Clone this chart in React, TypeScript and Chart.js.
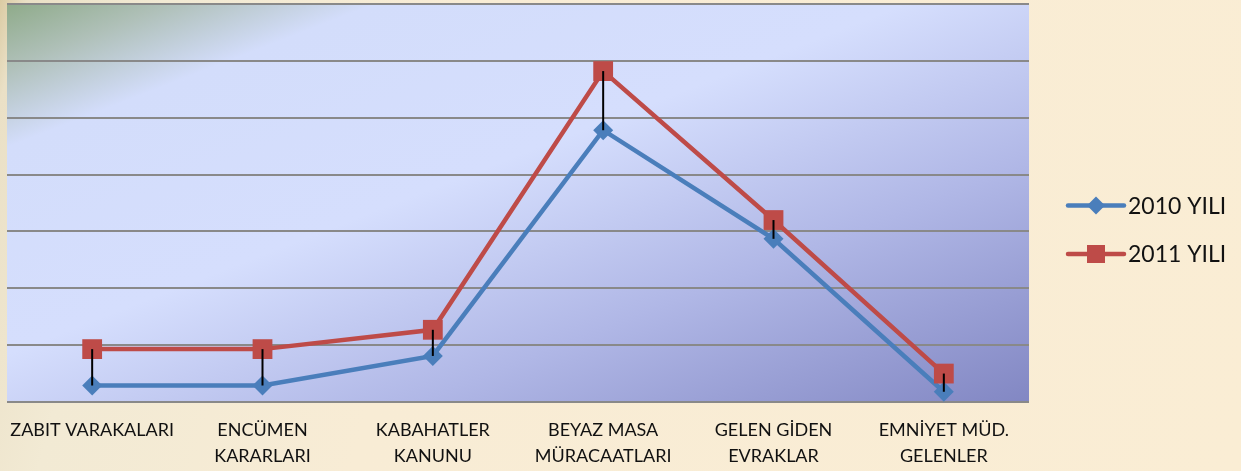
import { useEffect, useRef } from "react";
import { Chart, registerables } from "chart.js";

Chart.register(...registerables);

// Category labels (multi-line where the label wraps)
const categories: string[][] = [
  ["ZABIT VARAKALARI"],
  ["ENCÜMEN", "KARARLARI"],
  ["KABAHATLER", "KANUNU"],
  ["BEYAZ MASA", "MÜRACAATLARI"],
  ["GELEN GİDEN", "EVRAKLAR"],
  ["EMNİYET MÜD.", "GELENLER"],
];

const seriesNames = ["2010 YILI", "2011 YILI"];
const values2010 = [145, 145, 405, 2390, 1435, 90];
const values2011 = [465, 465, 635, 2910, 1600, 250];

const yMax = 3500;
const yStep = 500;

const BLUE = "#4A7EBB";
const RED = "#BE4B48";
const FONT = "Lato, 'Open Sans', sans-serif";

// Gradient fill behind the plot area (diagonal, greenish corner at top-left)
const plotBackground = {
  id: "plotBackground",
  beforeDraw(chart: Chart) {
    const { ctx, chartArea } = chart;
    const { left, top, width, height } = chartArea;
    ctx.save();
    ctx.translate(left, top);
    ctx.scale(width, height);
    const g = ctx.createLinearGradient(0, 0, 1, 1);
    g.addColorStop(0, "#8FAB8A");
    g.addColorStop(0.08, "#AFC0B8");
    g.addColorStop(0.18, "#D3DDFB");
    g.addColorStop(0.44, "#D5DEFD");
    g.addColorStop(0.7, "#B0B7E6");
    g.addColorStop(1, "#8287C3");
    ctx.fillStyle = g;
    ctx.fillRect(0, 0, 1, 1);
    ctx.restore();
  },
};

// Black high-low connectors between the two series at each category
const highLowLines = {
  id: "highLowLines",
  afterDatasetsDraw(chart: Chart) {
    const a = chart.getDatasetMeta(0).data;
    const b = chart.getDatasetMeta(1).data;
    const { ctx } = chart;
    ctx.save();
    ctx.strokeStyle = "#000";
    ctx.lineWidth = 2;
    for (let i = 0; i < a.length; i++) {
      ctx.beginPath();
      ctx.moveTo(b[i].x, b[i].y);
      ctx.lineTo(a[i].x, a[i].y);
      ctx.stroke();
    }
    ctx.restore();
  },
};

// Legend on the right: line sample with marker, then series name
const sideLegend = {
  id: "sideLegend",
  afterDraw(chart: Chart) {
    const { ctx, chartArea } = chart;
    const x1 = chartArea.right + 39;
    const x2 = chartArea.right + 95;
    const xm = (x1 + x2) / 2;
    const rows = [chartArea.top + 201.5, chartArea.top + 250];
    ctx.save();
    chart.data.datasets.forEach((ds: any, i: number) => {
      const y = rows[i];
      const color = ds.borderColor as string;
      ctx.strokeStyle = color;
      ctx.lineWidth = 4.5;
      ctx.lineCap = "round";
      ctx.beginPath();
      ctx.moveTo(x1, y);
      ctx.lineTo(x2, y);
      ctx.stroke();
      ctx.fillStyle = color;
      ctx.beginPath();
      if (ds.pointStyle === "rectRot") {
        const r = 9;
        ctx.moveTo(xm - r, y);
        ctx.lineTo(xm, y - r);
        ctx.lineTo(xm + r, y);
        ctx.lineTo(xm, y + r);
        ctx.closePath();
      } else {
        ctx.rect(xm - 9, y - 9, 18, 18);
      }
      ctx.fill();
      ctx.fillStyle = "#111";
      ctx.font = `23px ${FONT}`;
      ctx.textBaseline = "middle";
      ctx.textAlign = "left";
      ctx.fillText(ds.label, x2 + 4, y + 1);
    });
    ctx.restore();
  },
};

export default function App() {
  const canvasRef = useRef<HTMLCanvasElement | null>(null);

  useEffect(() => {
    const canvas = canvasRef.current;
    if (!canvas) return;
    const chart = new Chart(canvas, {
      type: "line",
      data: {
        labels: categories,
        datasets: [
          {
            label: seriesNames[0],
            data: values2010,
            borderColor: BLUE,
            backgroundColor: BLUE,
            borderWidth: 4.5,
            pointStyle: "rectRot",
            pointRadius: 10,
            pointBorderWidth: 0,
            pointBackgroundColor: BLUE,
            tension: 0,
            order: 2,
          },
          {
            label: seriesNames[1],
            data: values2011,
            borderColor: RED,
            backgroundColor: RED,
            borderWidth: 4.5,
            pointStyle: "rect",
            pointRadius: 14,
            pointBorderWidth: 0,
            pointBackgroundColor: RED,
            tension: 0,
            order: 1,
          },
        ],
      },
      options: {
        responsive: false,
        maintainAspectRatio: false,
        animation: false,
        layout: {
          autoPadding: false,
          padding: { left: 7, right: 212, top: 4, bottom: 0 },
        },
        plugins: {
          legend: { display: false },
          tooltip: { enabled: false },
        },
        scales: {
          x: {
            offset: true,
            grid: { display: false, drawTicks: false },
            border: { display: false },
            ticks: {
              autoSkip: false,
              maxRotation: 0,
              minRotation: 0,
              padding: 15,
              color: "#111",
              font: { family: FONT, size: 18, lineHeight: 1.45 },
            },
            afterFit(scale: any) {
              scale.height = 69;
              scale.paddingLeft = 0;
              scale.paddingRight = 0;
            },
          },
          y: {
            min: 0,
            max: yMax,
            ticks: { display: false, stepSize: yStep },
            grid: { color: "#898989", lineWidth: 2, drawTicks: false },
            border: { display: false },
            afterFit(scale: any) {
              scale.width = 0;
              scale.paddingTop = 0;
              scale.paddingBottom = 0;
            },
          },
        },
      },
      plugins: [plotBackground, highLowLines, sideLegend],
    });
    return () => chart.destroy();
  }, []);

  return (
    <div
      style={{
        position: "absolute",
        left: 0,
        top: 0,
        width: 1241,
        height: 471,
        background:
          "linear-gradient(105deg, #DACBA3 0%, #EAE0C6 2%, #F2EAD4 12%, #F8ECD5 35%, #FAEDD4 100%)",
      }}
    >
      <canvas ref={canvasRef} width={1241} height={471} style={{ display: "block" }} />
    </div>
  );
}
